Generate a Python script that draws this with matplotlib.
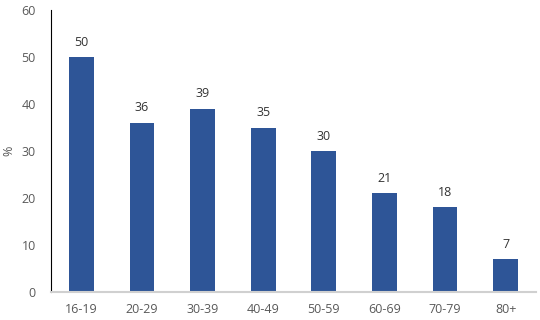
import matplotlib.pyplot as plt

age_groups = ['16-19', '20-29', '30-39', '40-49', '50-59', '60-69', '70-79', '80+']
percent = [50, 36, 39, 35, 30, 21, 18, 7]
y_ticks = [0, 10, 20, 30, 40, 50, 60]

plt.rcParams['font.family'] = ['Open Sans', 'DejaVu Sans']

fig = plt.figure(figsize=(5.4, 3.2), dpi=100)
ax = fig.add_axes([51 / 540, 28 / 320, 485 / 540, 282 / 320])

x = range(len(age_groups))
bars = ax.bar(x, percent, width=0.41, color='#2e5597')
for xi, v in zip(x, percent):
    ax.text(xi, v + 1.8, str(v), ha='center', va='bottom', fontsize=9, color='#333333')

ax.set_xlim(-0.5, len(age_groups) - 0.5)
ax.set_ylim(0, 60)
ax.set_yticks(y_ticks)
ax.set_xticks(list(x))
ax.set_xticklabels(age_groups)
ax.tick_params(axis='both', length=0, labelsize=9, colors='#595959')
ax.tick_params(axis='y', pad=11)
ax.tick_params(axis='x', pad=8)
ax.set_ylabel('%', fontsize=9, color='#595959', labelpad=4)

ax.spines['top'].set_visible(False)
ax.spines['right'].set_visible(False)
ax.spines['left'].set_color('black')
ax.spines['left'].set_linewidth(0.8)
ax.spines['bottom'].set_color('#d0d0d0')
ax.spines['bottom'].set_linewidth(1.5)

fig.savefig('out.png', dpi=100)
